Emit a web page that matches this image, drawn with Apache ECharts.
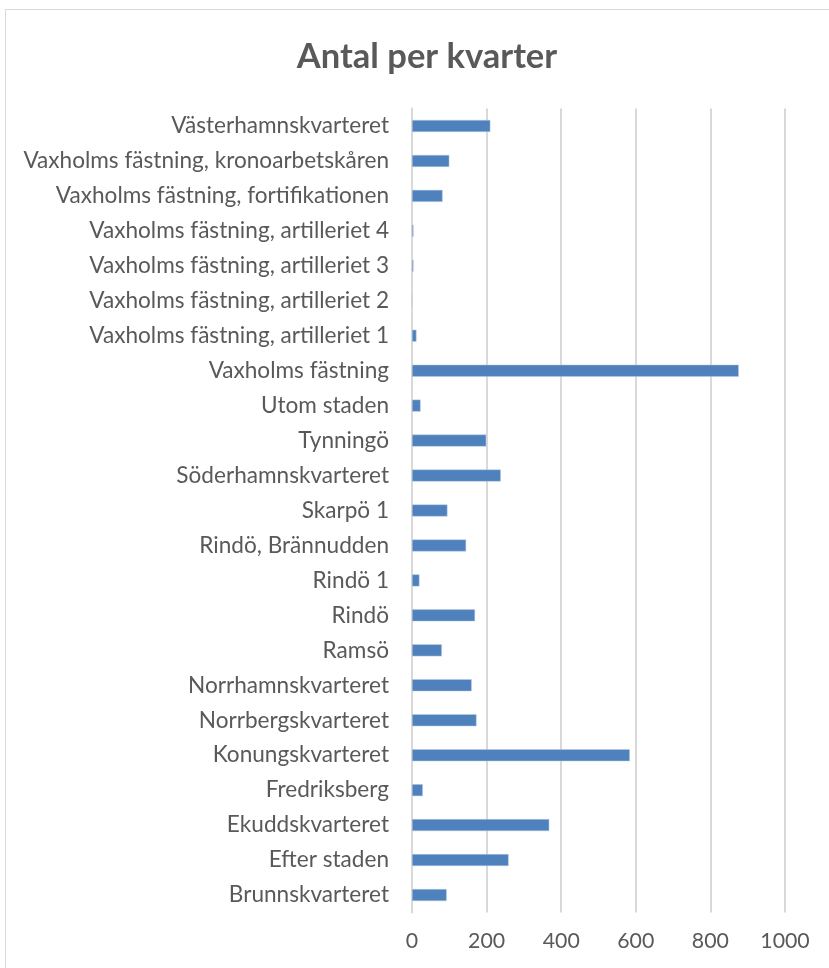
<!DOCTYPE html>
<html>
<head>
<meta charset="utf-8">
<script src="https://cdn.jsdelivr.net/npm/echarts@6/dist/echarts.min.js"></script>
<style>
    html, body { margin: 0; padding: 0; background: #fff; }
    #kvarter { width: 829px; height: 968px; }
</style>
</head>
<body>
<div id="kvarter"></div>
<script type="text/javascript">
    // listed bottom to top, as the category axis draws them
    var kvarterList = [
        'Brunnskvarteret', 'Efter staden', 'Ekuddskvarteret', 'Fredriksberg',
        'Konungskvarteret', 'Norrbergskvarteret', 'Norrhamnskvarteret', 'Ramsö',
        'Rindö', 'Rindö 1', 'Rindö, Brännudden', 'Skarpö 1', 'Söderhamnskvarteret',
        'Tynningö', 'Utom staden', 'Vaxholms fästning',
        'Vaxholms fästning, artilleriet 1', 'Vaxholms fästning, artilleriet 2',
        'Vaxholms fästning, artilleriet 3', 'Vaxholms fästning, artilleriet 4',
        'Vaxholms fästning, fortifikationen', 'Vaxholms fästning, kronoarbetskåren',
        'Västerhamnskvarteret'
    ];
    var antalList = [
        93, 259, 368, 29,
        584, 173, 160, 80,
        169, 20, 145, 95, 238,
        199, 23, 876,
        12, 1,
        4, 4,
        82, 100,
        210
    ];
    var xTicks = [0, 200, 400, 600, 800, 1000];

    var chart = echarts.init(document.getElementById('kvarter'));
    var option = {
        animation: false,
        backgroundColor: '#fff',
        textStyle: { fontFamily: 'Lato' },
        title: {
            text: 'Antal per kvarter',
            left: 422,
            textAlign: 'center',
            top: 34,
            textStyle: {
                color: '#595959',
                fontSize: 34.5,
                fontWeight: 'bold',
                fontFamily: 'Lato'
            }
        },
        graphic: [{
            type: 'rect',
            shape: { x: 5.5, y: 9.5, width: 900, height: 1000 },
            style: { fill: 'none', stroke: '#d9d9d9', lineWidth: 1 },
            silent: true
        }],
        grid: {
            left: 412,
            right: 44,
            top: 108.5,
            bottom: 55.5
        },
        xAxis: {
            type: 'value',
            min: 0,
            max: 1000,
            interval: 200,
            axisLine: { show: false },
            axisTick: { show: false },
            splitLine: { lineStyle: { color: '#d9d9d9', width: 2 } },
            axisLabel: {
                color: '#595959',
                fontSize: 21.3,
                margin: 18,
                formatter: function (v) {
                    return xTicks.indexOf(v) >= 0 ? String(v) : '';
                }
            }
        },
        yAxis: {
            type: 'category',
            data: kvarterList,
            axisLine: { show: true, lineStyle: { color: '#d9d9d9', width: 2 } },
            axisTick: { show: false },
            axisLabel: {
                color: '#595959',
                fontSize: 22.6,
                margin: 23,
                interval: 0
            }
        },
        series: [{
            name: 'Antal',
            type: 'bar',
            data: antalList,
            barWidth: 12,
            itemStyle: { color: '#4f81bd', borderColor: '#b8cce4', borderWidth: 0.5 }
        }]
    };
    chart.setOption(option);
</script>
</body>
</html>
